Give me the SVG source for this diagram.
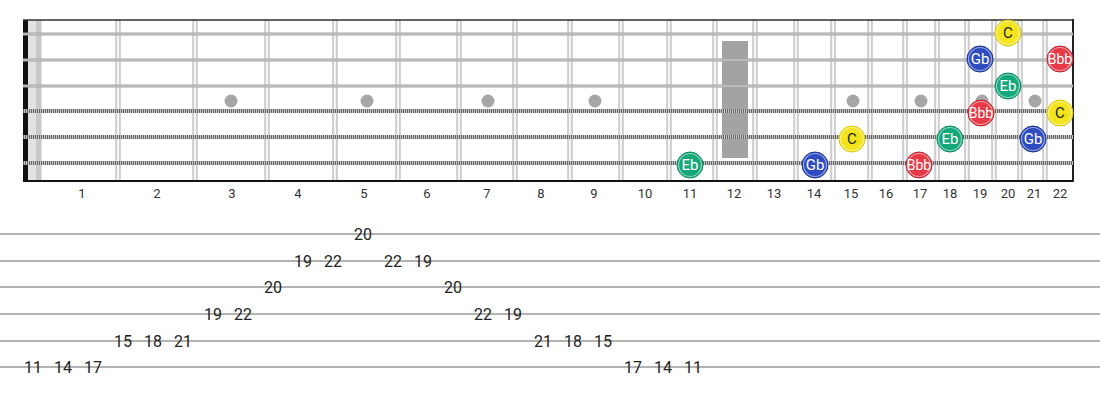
<svg xmlns="http://www.w3.org/2000/svg" width="1100" height="400" viewBox="0 0 1100 400">
<style>
.fret{fill:#f4f4f4;stroke:#a9a9a9;stroke-width:1}
.plain{stroke:#a4a4a4;stroke-width:3}
.plainc{stroke:#d0d0d0;stroke-width:1}
.woundb{stroke:#c4c4c4;stroke-width:4}
.woundd{stroke:#666;stroke-width:4;stroke-dasharray:1 1}
.dot{fill:#a6a6a6}
.fn{font-family:Roboto,"Liberation Sans",sans-serif;font-size:13px;fill:#333;text-anchor:middle}
.tl{stroke:#9a9a9a;stroke-width:1.6}
.tn{font-family:Roboto,"Liberation Sans",sans-serif;font-size:16px;fill:#222;text-anchor:middle}
.nl{font-family:Roboto,"Liberation Sans",sans-serif;font-size:15px;text-anchor:middle;fill:#fff}
.nl.k{fill:#222}
.nl.s{font-size:14px}
.ring{fill:none;stroke:#fff;stroke-opacity:.5;stroke-width:1.2}
.y{fill:#f3e41d;stroke:#d8c80e}
.b{fill:#2e4cbf;stroke:#1d3590}
.r{fill:#e63a46;stroke:#c02530}
.g{fill:#14a87b;stroke:#0d8a62}
</style>
<rect width="1100" height="400" fill="#fff"/>
<g id="fretboard">
<rect x="28" y="20" width="14" height="161" fill="#e2e2e2"/>
<rect x="36" y="20" width="5" height="161" fill="#c9c9c9"/>
<g id="inlays">
<circle class="dot" cx="231" cy="101" r="6.5"/>
<circle class="dot" cx="367" cy="101" r="6.5"/>
<circle class="dot" cx="488" cy="101" r="6.5"/>
<circle class="dot" cx="595" cy="101" r="6.5"/>
<circle class="dot" cx="853" cy="101" r="6.5"/>
<circle class="dot" cx="921" cy="101" r="6.5"/>
<circle class="dot" cx="982" cy="101" r="6.5"/>
<circle class="dot" cx="1035" cy="101" r="6.5"/>
<rect x="722" y="41" width="26" height="117" fill="#a3a3a3"/>
</g>
<g id="frets">
<rect class="fret" x="116" y="20" width="4" height="161"/>
<rect class="fret" x="193" y="20" width="4" height="161"/>
<rect class="fret" x="265" y="20" width="4" height="161"/>
<rect class="fret" x="333" y="20" width="4" height="161"/>
<rect class="fret" x="396" y="20" width="4" height="161"/>
<rect class="fret" x="457" y="20" width="4" height="161"/>
<rect class="fret" x="513" y="20" width="4" height="161"/>
<rect class="fret" x="568" y="20" width="4" height="161"/>
<rect class="fret" x="619" y="20" width="4" height="161"/>
<rect class="fret" x="667" y="20" width="4" height="161"/>
<rect class="fret" x="713" y="20" width="4" height="161"/>
<rect class="fret" x="753" y="20" width="4" height="161"/>
<rect class="fret" x="794" y="20" width="4" height="161"/>
<rect class="fret" x="831" y="20" width="4" height="161"/>
<rect class="fret" x="868" y="20" width="4" height="161"/>
<rect class="fret" x="903" y="20" width="4" height="161"/>
<rect class="fret" x="935" y="20" width="4" height="161"/>
<rect class="fret" x="965" y="20" width="4" height="161"/>
<rect class="fret" x="992" y="20" width="4" height="161"/>
<rect class="fret" x="1018" y="20" width="4" height="161"/>
<rect class="fret" x="1043" y="20" width="4" height="161"/>
</g>
<rect x="23" y="20" width="5" height="161" fill="#111"/>
<line x1="23" y1="20" x2="1074" y2="20" stroke="#333" stroke-width="1.5"/>
<line x1="23" y1="181" x2="1074" y2="181" stroke="#111" stroke-width="2"/>
<line x1="1073" y1="19" x2="1073" y2="182" stroke="#222" stroke-width="2"/>
<g id="strings">
<line class="plain" x1="23" y1="34" x2="1073" y2="34"/>
<line class="plainc" x1="23" y1="34" x2="1073" y2="34"/>
<line class="plain" x1="23" y1="60" x2="1073" y2="60"/>
<line class="plainc" x1="23" y1="60" x2="1073" y2="60"/>
<line class="plain" x1="23" y1="86" x2="1073" y2="86"/>
<line class="plainc" x1="23" y1="86" x2="1073" y2="86"/>
<line class="woundb" x1="23" y1="111" x2="1073" y2="111"/>
<line class="woundd" x1="23" y1="111" x2="1073" y2="111"/>
<line class="woundb" x1="23" y1="137" x2="1073" y2="137"/>
<line class="woundd" x1="23" y1="137" x2="1073" y2="137"/>
<line class="woundb" x1="23" y1="163" x2="1073" y2="163"/>
<line class="woundd" x1="23" y1="163" x2="1073" y2="163"/>
</g>
</g>
<g id="fret-numbers">
<text class="fn" x="82" y="198">1</text>
<text class="fn" x="157" y="198">2</text>
<text class="fn" x="232" y="198">3</text>
<text class="fn" x="298" y="198">4</text>
<text class="fn" x="364" y="198">5</text>
<text class="fn" x="427" y="198">6</text>
<text class="fn" x="487" y="198">7</text>
<text class="fn" x="541" y="198">8</text>
<text class="fn" x="594" y="198">9</text>
<text class="fn" x="645" y="198">10</text>
<text class="fn" x="690" y="198">11</text>
<text class="fn" x="734" y="198">12</text>
<text class="fn" x="774" y="198">13</text>
<text class="fn" x="814" y="198">14</text>
<text class="fn" x="851" y="198">15</text>
<text class="fn" x="886" y="198">16</text>
<text class="fn" x="920" y="198">17</text>
<text class="fn" x="950" y="198">18</text>
<text class="fn" x="980" y="198">19</text>
<text class="fn" x="1008" y="198">20</text>
<text class="fn" x="1034" y="198">21</text>
<text class="fn" x="1060" y="198">22</text>
</g>
<g id="note-eb-11"><circle class="g" cx="690" cy="165" r="13"/><circle class="ring" cx="690" cy="165" r="11.5"/><text class="nl" x="690" y="170.3">Eb</text></g>
<g id="note-gb-14"><circle class="b" cx="815" cy="165" r="13"/><circle class="ring" cx="815" cy="165" r="11.5"/><text class="nl" x="815" y="170.3">Gb</text></g>
<g id="note-bbb-17"><circle class="r" cx="919" cy="165" r="13"/><circle class="ring" cx="919" cy="165" r="11.5"/><text class="nl s" x="919" y="170">Bbb</text></g>
<g id="note-c-15"><circle class="y" cx="852" cy="139" r="13"/><circle class="ring" cx="852" cy="139" r="11.5"/><text class="nl k" x="852" y="144.3">C</text></g>
<g id="note-eb-18"><circle class="g" cx="950" cy="139" r="13"/><circle class="ring" cx="950" cy="139" r="11.5"/><text class="nl" x="950" y="144.3">Eb</text></g>
<g id="note-gb-21"><circle class="b" cx="1033" cy="139" r="13"/><circle class="ring" cx="1033" cy="139" r="11.5"/><text class="nl" x="1033" y="144.3">Gb</text></g>
<g id="note-bbb-19"><circle class="r" cx="981" cy="113" r="13"/><circle class="ring" cx="981" cy="113" r="11.5"/><text class="nl s" x="981" y="118">Bbb</text></g>
<g id="note-c-22"><circle class="y" cx="1060" cy="113" r="13"/><circle class="ring" cx="1060" cy="113" r="11.5"/><text class="nl k" x="1060" y="118.3">C</text></g>
<g id="note-eb-20"><circle class="g" cx="1008" cy="86" r="13"/><circle class="ring" cx="1008" cy="86" r="11.5"/><text class="nl" x="1008" y="91.3">Eb</text></g>
<g id="note-gb-19"><circle class="b" cx="980" cy="59" r="13"/><circle class="ring" cx="980" cy="59" r="11.5"/><text class="nl" x="980" y="64.3">Gb</text></g>
<g id="note-bbb-22"><circle class="r" cx="1060" cy="59" r="13"/><circle class="ring" cx="1060" cy="59" r="11.5"/><text class="nl s" x="1060" y="64">Bbb</text></g>
<g id="note-c-20"><circle class="y" cx="1008" cy="33" r="13"/><circle class="ring" cx="1008" cy="33" r="11.5"/><text class="nl k" x="1008" y="38.3">C</text></g>
<g id="tab">
<line class="tl" x1="0" y1="234" x2="1100" y2="234"/>
<line class="tl" x1="0" y1="261" x2="1100" y2="261"/>
<line class="tl" x1="0" y1="287" x2="1100" y2="287"/>
<line class="tl" x1="0" y1="314" x2="1100" y2="314"/>
<line class="tl" x1="0" y1="341" x2="1100" y2="341"/>
<line class="tl" x1="0" y1="367" x2="1100" y2="367"/>
<text class="tn" x="363" y="240">20</text>
<text class="tn" x="303" y="267">19</text>
<text class="tn" x="333" y="267">22</text>
<text class="tn" x="393" y="267">22</text>
<text class="tn" x="423" y="267">19</text>
<text class="tn" x="273" y="293">20</text>
<text class="tn" x="453" y="293">20</text>
<text class="tn" x="213" y="320">19</text>
<text class="tn" x="243" y="320">22</text>
<text class="tn" x="483" y="320">22</text>
<text class="tn" x="513" y="320">19</text>
<text class="tn" x="123" y="347">15</text>
<text class="tn" x="153" y="347">18</text>
<text class="tn" x="183" y="347">21</text>
<text class="tn" x="543" y="347">21</text>
<text class="tn" x="573" y="347">18</text>
<text class="tn" x="603" y="347">15</text>
<text class="tn" x="33" y="373">11</text>
<text class="tn" x="63" y="373">14</text>
<text class="tn" x="93" y="373">17</text>
<text class="tn" x="633" y="373">17</text>
<text class="tn" x="663" y="373">14</text>
<text class="tn" x="693" y="373">11</text>
</g>
</svg>
